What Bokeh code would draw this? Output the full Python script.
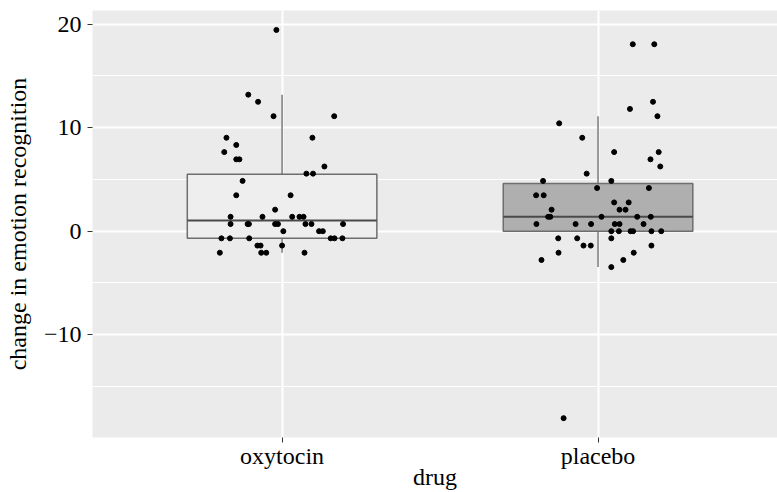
from bokeh.plotting import figure
from bokeh.models import FixedTicker, Range1d
from bokeh.embed import file_html
from bokeh.resources import INLINE

# ---------------- data ----------------
drugs = ["oxytocin", "placebo"]
drug_pos = [1, 2]

oxy_values = [19.44, 13.19, 12.50, 11.11, 11.11, 9.03, 9.03, 8.33, 7.64, 6.94,
              6.94, 6.25, 5.56, 5.56, 4.86, 3.47, 3.47, 2.08, 1.39, 1.39,
              1.39, 1.39, 1.39, 0.69, 0.69, 0.69, 0.69, 0.69, 0.69, 0.69,
              0.69, 0.00, 0.00, 0.00, -0.69, -0.69, -0.69, -0.69, -0.69, -0.69,
              -1.39, -1.39, -1.39, -2.08, -2.08, -2.08, -2.08]
oxy_jitter = [-0.018, -0.107, -0.076, -0.027, 0.165, -0.176, 0.096, -0.145, -0.183, -0.145,
              -0.135, 0.134, 0.077, 0.098, -0.125, -0.145, 0.027, -0.022, -0.163, -0.062,
              0.032, 0.055, 0.068, -0.163, -0.109, -0.105, -0.022, -0.013, 0.074, 0.093,
              0.193, 0.004, 0.117, 0.129, -0.192, -0.165, -0.104, 0.154, 0.166, 0.191,
              -0.078, -0.068, 0.000, -0.197, -0.066, -0.050, 0.071]

pla_values = [18.06, 18.06, 12.50, 11.81, 11.11, 10.42, 9.03, 7.64, 7.64, 6.94,
              6.25, 5.56, 4.86, 4.86, 4.17, 4.17, 3.47, 3.47, 2.78, 2.78,
              2.08, 2.08, 2.08, 1.39, 1.39, 1.39, 1.39, 1.39, 0.69, 0.69,
              0.69, 0.69, 0.69, 0.69, 0.00, 0.00, 0.00, 0.00, 0.00, 0.00,
              -0.69, -0.69, -0.69, -1.39, -1.39, -1.39, -2.08, -2.08, -2.78, -2.78,
              -3.47, -18.06]
pla_jitter = [0.110, 0.178, 0.174, 0.101, 0.188, -0.123, -0.050, 0.051, 0.192, 0.166,
              0.197, -0.036, -0.174, 0.042, -0.003, 0.161, -0.196, -0.172, 0.051, 0.097,
              -0.147, 0.068, 0.087, -0.158, -0.151, 0.011, 0.124, 0.167, -0.195, -0.071,
              -0.022, 0.053, 0.068, 0.144, 0.042, 0.066, 0.103, 0.111, 0.169, 0.200,
              -0.126, -0.066, 0.042, -0.046, -0.023, 0.169, -0.125, 0.113, -0.179, 0.080,
              0.042, -0.109]

# box statistics (per drug)
box_lower = [-2.08, -3.47]
box_q1 = [-0.69, 0.00]
box_median = [1.04, 1.39]
box_q3 = [5.50, 4.60]
box_upper = [13.19, 11.11]

y_ticks = [-10, 0, 10, 20]
y_minor = [-15, -5, 5, 15]
y_tick_labels = {-10: "\u221210", 0: "0", 10: "10", 20: "20"}

# ---------------- styles ----------------
FONT = "Liberation Serif"
FS = "24px"
box_fill = ["#EEEEEE", "#AFAFAF"]
box_half = 0.3

p = figure(width=777, height=492,
           x_range=Range1d(0.4, 2.568), y_range=Range1d(-19.93, 21.32),
           output_backend="svg", toolbar_location=None,
           min_border_left=92, min_border_top=10, min_border_right=0, min_border_bottom=55)
p.background_fill_color = "#EBEBEB"
p.border_fill_color = "white"
p.outline_line_color = None

# grids
p.xgrid.ticker = FixedTicker(ticks=drug_pos)
p.ygrid.ticker = FixedTicker(ticks=y_ticks, minor_ticks=y_minor)
for g in (p.xgrid, p.ygrid):
    g.grid_line_color = "white"
    g.grid_line_width = 2
p.ygrid.minor_grid_line_color = "white"
p.ygrid.minor_grid_line_width = 1

# axes
p.xaxis.ticker = FixedTicker(ticks=drug_pos)
p.xaxis.major_label_overrides = {pos: name for pos, name in zip(drug_pos, drugs)}
p.yaxis.ticker = FixedTicker(ticks=y_ticks, minor_ticks=y_minor)
p.yaxis.major_label_overrides = y_tick_labels
p.xaxis.axis_label = "drug"
p.yaxis.axis_label = "change in emotion recognition"
for ax in (p.xaxis, p.yaxis):
    ax.axis_line_color = None
    ax.major_tick_line_color = "#333333"
    ax.major_tick_line_width = 1
    ax.major_tick_in = 0
    ax.major_tick_out = 5
    ax.minor_tick_line_color = None
    ax.major_label_text_font = FONT
    ax.major_label_text_font_size = FS
    ax.major_label_text_color = "black"
    ax.axis_label_text_font = FONT
    ax.axis_label_text_font_size = FS
    ax.axis_label_text_font_style = "normal"
    ax.axis_label_text_color = "black"
p.yaxis.major_label_standoff = 6
p.yaxis.axis_label_standoff = 10
p.xaxis.major_label_standoff = 0
p.xaxis.axis_label_standoff = -8

# whiskers
p.segment(x0=drug_pos, y0=box_q3, x1=drug_pos, y1=box_upper, line_color="#7A7A7A", line_width=1.5)
p.segment(x0=drug_pos, y0=box_lower, x1=drug_pos, y1=box_q1, line_color="#7A7A7A", line_width=1.5)

# boxes
lefts = [x - box_half for x in drug_pos]
rights = [x + box_half for x in drug_pos]
p.quad(left=lefts, right=rights, bottom=box_q1, top=box_q3,
       fill_color=box_fill, line_color="#6E6E6E", line_width=1.5)
p.segment(x0=lefts, y0=box_median, x1=rights, y1=box_median, line_color="#4A4A4A", line_width=2)

# jittered points
oxy_x = [drug_pos[0] + j for j in oxy_jitter]
pla_x = [drug_pos[1] + j for j in pla_jitter]
p.scatter(x=oxy_x, y=oxy_values, size=5, fill_color="black", line_color="black")
p.scatter(x=pla_x, y=pla_values, size=5, fill_color="black", line_color="black")

open("out.html", "w").write(file_html(p, INLINE))
